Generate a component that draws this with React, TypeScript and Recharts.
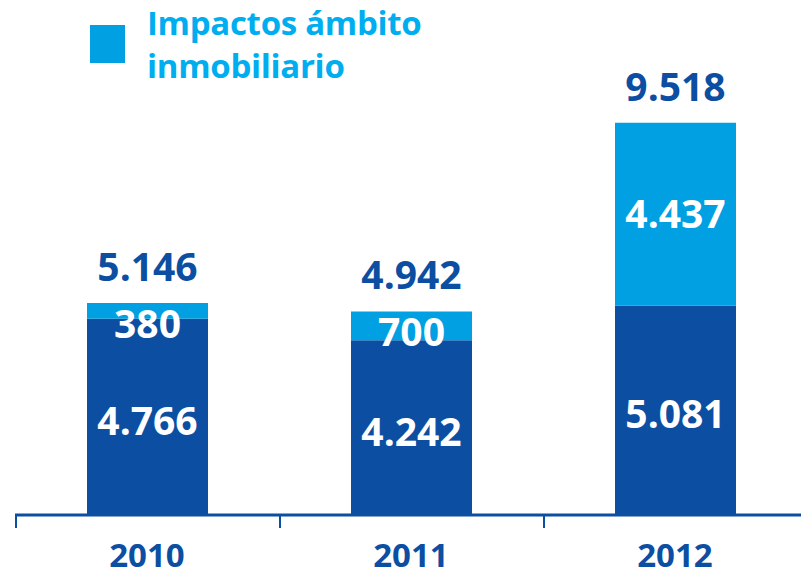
import { BarChart, Bar, XAxis, YAxis, LabelList } from 'recharts';

const years = ['2010', '2011', '2012'];
const baseValues = [4766, 4242, 5081];
const inmoValues = [380, 700, 4437];

const DARK = '#0c4fa2';
const LIGHT = '#00a0e3';
const FONT = '"Open Sans", sans-serif';

const data = years.map((year, i) => ({
  year,
  base: baseValues[i],
  inmo: inmoValues[i],
  total: baseValues[i] + inmoValues[i],
}));

// 4.766 style thousands separator
const fmt = (v: number) => String(v).replace(/\B(?=(\d{3})+(?!\d))/g, '.');

const BAND = 264;

const YearTick = ({ x, y, payload }: any) => (
  <g>
    <line x1={x - BAND / 2 + 1} x2={x - BAND / 2 + 1} y1={y} y2={y + 13} stroke={DARK} strokeWidth={2} />
    <text x={x} y={y + 40} dy="0.36em" textAnchor="middle" fill={DARK} fontSize={33} fontWeight={700} fontFamily={FONT}>
      {payload.value}
    </text>
  </g>
);

const BaseLabel = ({ x, y, width, height, value }: any) => (
  <text x={x + width / 2} y={y + height / 2 + 4} dy="0.36em" textAnchor="middle" fill="#fff" fontSize={39} fontWeight={700} fontFamily={FONT}>
    {fmt(value)}
  </text>
);

const InmoLabel = ({ x, y, width, height, value }: any) => {
  const cy = Math.max(y + height / 2, y + 21);
  return (
    <text x={x + width / 2} y={cy} dy="0.36em" textAnchor="middle" fill="#fff" fontSize={39} fontWeight={700} fontFamily={FONT}>
      {fmt(value)}
    </text>
  );
};

const TotalLabel = ({ x, y, width, index }: any) => (
  <text x={x + width / 2} y={y - 36} dy="0.36em" textAnchor="middle" fill={DARK} fontSize={39} fontWeight={700} fontFamily={FONT}>
    {fmt(data[index].total)}
  </text>
);

const LegendBox = () => (
  <div style={{ position: 'absolute', left: 0, top: 0, width: 440, height: 100 }}>
    <div style={{ position: 'absolute', left: 90, top: 25, width: 35, height: 38, background: LIGHT }} />
    <div
      style={{
        position: 'absolute',
        left: 147,
        top: 1,
        color: '#00aeef',
        fontFamily: FONT,
        fontWeight: 700,
        fontSize: 33,
        lineHeight: '43px',
        letterSpacing: -0.3,
        whiteSpace: 'nowrap',
      }}
    >
      Impactos ámbito
      <br />
      inmobiliario
    </div>
  </div>
);

export default function App() {
  return (
    <div style={{ position: 'absolute', left: 0, top: 0, width: 801, height: 577, overflow: 'hidden', background: '#fff' }}>
      <BarChart
        width={807}
        height={577}
        data={data}
        margin={{ top: 103, right: 0, bottom: 0, left: 15 }}
        barSize={121}
      >
        <XAxis
          dataKey="year"
          height={62}
          axisLine={{ stroke: DARK, strokeWidth: 3 }}
          tickLine={false}
          tickSize={0}
          tickMargin={0}
          tick={<YearTick />}
          interval={0}
        />
        <YAxis hide domain={[0, 10000]} />
        <Bar dataKey="base" stackId="a" fill={DARK} isAnimationActive={false}>
          <LabelList dataKey="base" content={<BaseLabel />} />
        </Bar>
        <Bar dataKey="inmo" stackId="a" fill={LIGHT} isAnimationActive={false}>
          <LabelList dataKey="inmo" content={<InmoLabel />} />
          <LabelList dataKey="total" content={<TotalLabel />} />
        </Bar>
      </BarChart>
      <LegendBox />
    </div>
  );
}
